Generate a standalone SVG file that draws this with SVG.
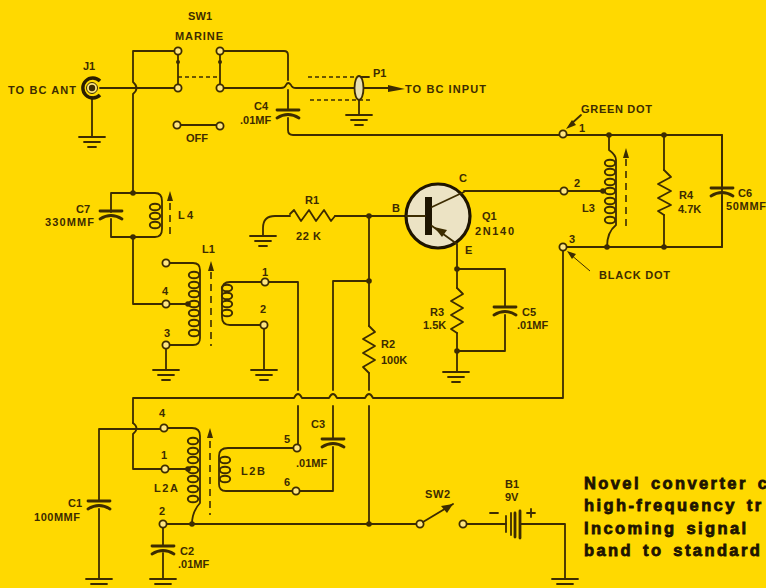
<svg xmlns="http://www.w3.org/2000/svg" width="766" height="588" viewBox="0 0 766 588">
<style>
.w{fill:none;stroke:#3d2c00;stroke-width:1.8;stroke-linecap:round;stroke-linejoin:round}
.p{fill:none;stroke:#3d2c00;stroke-width:2.8;stroke-linecap:round}
.d{fill:none;stroke:#3d2c00;stroke-width:1.3;stroke-dasharray:4 3}
.c{fill:none;stroke:#3d2c00;stroke-width:1.6;stroke-dasharray:7 5}
.f{fill:#3d2c00}
text{font-family:"Liberation Sans",Arial,sans-serif;font-weight:700;font-size:11px;fill:#3d2c00}
.b{font-size:16.5px;font-weight:700;fill:#1e1400;stroke:#1e1400;stroke-width:.8px;letter-spacing:2.4px;word-spacing:3px}
</style>
<defs>
<g id="gnd"><path class="w" d="M-13 0H13M-8 5H8M-4 10H4"/></g>
<circle id="term" r="3.6" fill="#ffe680" stroke="#3d2c00" stroke-width="1.8"/>
<circle id="dot" r="2.8" class="f"/>
<ellipse id="t" rx="5.2" ry="3.3" fill="none" stroke="#3d2c00" stroke-width="1.9"/>
<path id="cap" class="p" d="M-11 0H11M-11 8Q0 1 11 8"/>
<path id="up" class="f" d="M0 -7L3 3H-3Z"/>
</defs>
<rect width="766" height="588" fill="#ffd900"/>

<g id="connectors">
<path class="w" d="M100 88H178"/>
<path class="w" d="M175 51H133V82Q140 88 133 94V193"/>
<path class="w" d="M178 51V88M220 51V88"/>
<path class="d" d="M178 77H220"/>
<path class="w" d="M220 51H284Q288 51 288 55V80"/>
<path class="w" d="M220 88H281Q285 88 286 85Q288 81 291 85Q292 88 296 88H395"/>
<path class="w" d="M288 90V110M288 118V130Q288 135 293 135H563"/>
<path class="w" d="M567 135H722V247H567"/>
<path class="w" d="M92 97V137"/>
<path class="w" d="M177 125H220"/>
<path class="w" d="M133 237V304H166"/>
<path class="w" d="M166 345V370"/>
<path class="w" d="M166 263H193Q200 263 200 270V338Q200 345 193 345H166"/>
<path class="w" d="M166 304H186"/>
<path class="w" d="M265 282H230Q222 282 222 290V317Q222 325 230 325H264"/>
<path class="w" d="M264 325V370"/>
<path class="w" d="M268 282H298V390M298 406V448"/>
<path class="w" d="M333 390V281H369M333 406V439M333 447V491H296"/>
<path class="w" d="M290 216H275Q263 216 263 228V236"/>
<path class="w" d="M335 216H407"/>
<path class="w" d="M369 216V326M369 373V390M369 406V524"/>
<path class="w" d="M133 423V398H294Q298 390 302 398H329Q333 390 337 398H365Q369 390 373 398H563V251"/>
<path class="w" d="M99 501V429H164"/>
<path class="w" d="M133 423Q140 428 133 434V469H165"/>
<path class="w" d="M99 509V579"/>
<path class="w" d="M167 428H192Q200 428 200 436V503Q192 512 192 524"/>
<path class="w" d="M165 469H186"/>
<path class="w" d="M163 524H420"/>
<path class="w" d="M163 527V546M163 553V579"/>
<path class="w" d="M297 448H228Q219 448 219 456V484Q219 491 226 491H296"/>
<path class="w" d="M464 191H603"/>
<path class="w" d="M457 245V288M457 333V372"/>
<path class="w" d="M457 269H505V307M505 315V351H457"/>
<path class="w" d="M467 524H506M520 524H565V579"/>
<path class="w" d="M609 135V150Q616 155 616 160V225Q607 232 607 247"/>
<path class="w" d="M664 135V170M664 215V247"/>
<path class="w" d="M722 135V188M722 196V247"/>
<path class="w" d="M581 115L570 125"/>
<path style="fill:none;stroke:#3d2c00;stroke-width:1" d="M590 271L570 254"/>
<path class="f" d="M566 129L572 120L576 125ZM567 251L576 254L572 259Z"/>
<path class="w" d="M111 212V193H155Q162 193 162 201V229Q162 237 155 237H111V219"/>
</g>

<g id="J1"><path d="M100 81A10 10 0 1 0 100 95" fill="none" stroke="#2a1d00" stroke-width="3.4"/><circle cx="92" cy="88" r="5.5" fill="#ffe680" stroke="#3d2c00"/><circle cx="92" cy="88" r="3.2" class="f"/><use href="#gnd" x="92" y="137"/><text x="83" y="70">J1</text><text x="8" y="94" textLength="68">TO BC ANT</text></g>
<g id="SW1"><use href="#term" x="178" y="51"/><use href="#term" x="178" y="88"/><use href="#term" x="220" y="51"/><use href="#term" x="220" y="88"/><use href="#term" x="177" y="125"/><use href="#term" x="220" y="126"/><circle cx="178" cy="62" r="2" class="f"/><circle cx="220" cy="62" r="2" class="f"/><text x="188" y="20" textLength="24">SW1</text><text x="175" y="40" textLength="48">MARINE</text><text x="186" y="142" textLength="22">OFF</text></g>
<g id="P1"><path class="w" d="M369 77H359"/><path class="d" d="M308 77H357M310 100H371"/><ellipse cx="359" cy="88" rx="4.5" ry="12" fill="#e8dfb0" stroke="#3d2c00" stroke-width="1.8"/><path class="w" d="M359 100V115"/><use href="#gnd" x="359" y="115"/><text x="373" y="77">P1</text><path class="f" d="M388 85L405 89L388 92Z"/><text x="405" y="93" textLength="81">TO BC INPUT</text></g>
<g id="C4"><use href="#cap" x="288" y="110"/><text x="254" y="110">C4</text><text x="240" y="124">.01MF</text></g>
<g id="C7"><use href="#cap" x="111" y="211"/><text x="76" y="213">C7</text><text x="45" y="226" textLength="49">330MMF</text></g>
<g id="L4"><use href="#dot" x="133" y="193"/><use href="#dot" x="133" y="237"/><use href="#t" x="155" y="207"/><use href="#t" x="155" y="216"/><use href="#t" x="155" y="225"/><use href="#up" x="170" y="198"/><path class="c" d="M170 203V236"/><text x="178" y="219" textLength="15">L4</text></g>
<g id="L1"><use href="#term" x="166" y="263"/><use href="#term" x="166" y="304"/><use href="#term" x="166" y="345"/><use href="#term" x="265" y="282"/><use href="#term" x="264" y="325"/><use href="#dot" x="188" y="304"/><use href="#t" x="194" y="275"/><use href="#t" x="194" y="285"/><use href="#t" x="194" y="294"/><use href="#t" x="194" y="304"/><use href="#t" x="194" y="313"/><use href="#t" x="194" y="323"/><use href="#t" x="194" y="333"/><use href="#t" x="227" y="288"/><use href="#t" x="227" y="296"/><use href="#t" x="227" y="304"/><use href="#t" x="227" y="313"/><use href="#up" x="211" y="268"/><path class="c" d="M211 272V346"/><use href="#gnd" x="166" y="370"/><use href="#gnd" x="264" y="370"/><text x="202" y="253">L1</text><text x="162" y="295">4</text><text x="164" y="337">3</text><text x="262" y="276">1</text><text x="260" y="313">2</text></g>
<g id="R1"><path class="w" d="M290 214L294 210L301 221L309 210L316 221L324 210L331 221L335 216"/><use href="#gnd" x="263" y="236"/><use href="#dot" x="369" y="216"/><use href="#dot" x="369" y="281"/><text x="305" y="204">R1</text><text x="296" y="240" textLength="25">22 K</text></g>
<g id="R2"><path class="w" d="M369 326L375 332L363 339L375 346L363 353L375 360L363 367L369 373"/><text x="381" y="348">R2</text><text x="381" y="364">100K</text></g>
<g id="Q1"><circle cx="438" cy="216" r="32" fill="#ece3c4" stroke="#1e1400" stroke-width="3.2"/><rect x="425" y="197" width="7" height="38" fill="#1e1400"/><path class="w" d="M406 216H425M432 207L464 192M432 226L457 244"/><path class="f" d="M434 227L447 230L442 237Z"/><text x="392" y="212">B</text><text x="459" y="182">C</text><text x="465" y="254">E</text><text x="482" y="220">Q1</text><text x="475" y="235" textLength="39">2N140</text></g>
<g id="R3"><path class="w" d="M457 288L463 294L451 301L463 308L451 315L463 322L451 329L457 333"/><use href="#dot" x="457" y="269"/><use href="#dot" x="457" y="351"/><use href="#gnd" x="456" y="372"/><text x="430" y="316">R3</text><text x="423" y="329">1.5K</text></g>
<g id="C5"><use href="#cap" x="505" y="307"/><text x="522" y="316">C5</text><text x="517" y="329">.01MF</text></g>
<g id="L3"><use href="#term" x="563" y="134"/><use href="#term" x="564" y="191"/><use href="#term" x="563" y="247"/><use href="#dot" x="609" y="135"/><use href="#dot" x="664" y="135"/><use href="#dot" x="607" y="247"/><use href="#dot" x="664" y="247"/><use href="#dot" x="603" y="191"/><use href="#t" x="610" y="163"/><use href="#t" x="610" y="172"/><use href="#t" x="610" y="182"/><use href="#t" x="610" y="191"/><use href="#t" x="610" y="201"/><use href="#t" x="610" y="210"/><use href="#t" x="610" y="220"/><use href="#up" x="626" y="155"/><path class="c" d="M626 159V231"/><text x="581" y="113" textLength="71">GREEN DOT</text><text x="599" y="279" textLength="71">BLACK DOT</text><text x="579" y="132">1</text><text x="574" y="187">2</text><text x="569" y="243">3</text><text x="582" y="212">L3</text></g>
<g id="R4"><path class="w" d="M664 170L671 177L658 184L671 191L658 198L671 205L658 211L664 215"/><text x="679" y="199">R4</text><text x="678" y="213">4.7K</text></g>
<g id="C6"><use href="#cap" x="722" y="188"/><text x="738" y="197">C6</text><text x="726" y="210" textLength="40">50MMF</text></g>
<g id="C1"><use href="#cap" x="99" y="501"/><use href="#gnd" x="99" y="579"/><text x="68" y="507">C1</text><text x="34" y="521" textLength="46">100MMF</text></g>
<g id="C2"><use href="#cap" x="163" y="546"/><use href="#gnd" x="163" y="579"/><text x="180" y="555">C2</text><text x="178" y="568">.01MF</text></g>
<g id="C3"><use href="#cap" x="333" y="439"/><text x="311" y="428">C3</text><text x="296" y="467">.01MF</text></g>
<g id="L2A"><use href="#term" x="164" y="428"/><use href="#term" x="165" y="469"/><use href="#term" x="163" y="524"/><use href="#dot" x="188" y="469"/><use href="#dot" x="192" y="524"/><use href="#dot" x="369" y="524"/><use href="#t" x="193" y="441"/><use href="#t" x="193" y="451"/><use href="#t" x="193" y="460"/><use href="#t" x="193" y="470"/><use href="#t" x="193" y="479"/><use href="#t" x="193" y="489"/><use href="#t" x="193" y="499"/><use href="#up" x="210" y="435"/><path class="c" d="M210 441V515"/><text x="159" y="417">4</text><text x="161" y="459">1</text><text x="159" y="515">2</text><text x="154" y="492" textLength="24">L2A</text></g>
<g id="L2B"><use href="#term" x="297" y="448"/><use href="#term" x="296" y="491"/><use href="#t" x="225" y="460"/><use href="#t" x="225" y="470"/><use href="#t" x="225" y="479"/><text x="241" y="475" textLength="24">L2B</text><text x="284" y="443">5</text><text x="284" y="486">6</text></g>
<g id="SW2"><use href="#term" x="420" y="524"/><use href="#term" x="463" y="524"/><path class="w" d="M423 522L453 504"/><path class="f" d="M453 504L447 513L441 506Z"/><text x="425" y="498" textLength="25">SW2</text></g>
<g id="B1"><path class="w" d="M506 516V532M511 513V535"/><path class="p" d="M515 513V537M520 511V538"/><path class="w" d="M490 513H498M527 513H535M531 509V517"/><text x="505" y="488">B1</text><text x="505" y="501">9V</text></g>
<use href="#gnd" x="565" y="579"/>
<g id="caption"><text class="b" x="584" y="489">Novel converter c</text><text class="b" x="584" y="511">high-frequency tr</text><text class="b" x="584" y="534" word-spacing="8">Incoming signal</text><text class="b" x="584" y="556">band to standard</text></g>
</svg>
